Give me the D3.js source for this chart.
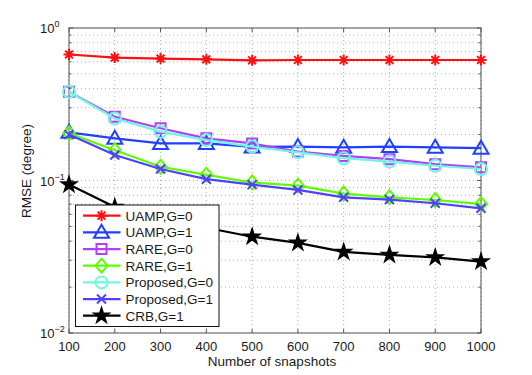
<!DOCTYPE html>
<html>
<head>
<meta charset="utf-8">
<script src="https://cdn.jsdelivr.net/npm/d3@7"></script>
<style>
  body { margin: 0; background: #fff; }
  text { font-family: "Liberation Sans", Arial, sans-serif; fill: #1a1a1a; }
</style>
</head>
<body>
<svg width="532" height="375"></svg>
<script>
// data
var snapshots = [100, 200, 300, 400, 500, 600, 700, 800, 900, 1000];
var uampG0 = [0.67, 0.64, 0.63, 0.623, 0.614, 0.617, 0.617, 0.617, 0.617, 0.617];
var uampG1 = [0.207, 0.189, 0.175, 0.175, 0.166, 0.167, 0.165, 0.167, 0.165, 0.163];
var rareG0 = [0.382, 0.262, 0.22, 0.189, 0.175, 0.155, 0.145, 0.138, 0.128, 0.122];
var rareG1 = [0.204, 0.158, 0.123, 0.109, 0.097, 0.0925, 0.082, 0.0776, 0.0745, 0.070];
var propG0 = [0.382, 0.255, 0.209, 0.184, 0.167, 0.153, 0.14, 0.133, 0.125, 0.119];
var propG1 = [0.2, 0.147, 0.119, 0.102, 0.094, 0.0867, 0.0776, 0.075, 0.0709, 0.0657];
var crbG1 = [0.094, 0.067, 0.056, 0.049, 0.0428, 0.039, 0.034, 0.0325, 0.0313, 0.0294];

var seriesNames = ["UAMP,G=0", "UAMP,G=1", "RARE,G=0", "RARE,G=1", "Proposed,G=0", "Proposed,G=1", "CRB,G=1"];
var seriesValues = [uampG0, uampG1, rareG0, rareG1, propG0, propG1, crbG1];
var seriesColors = ["#ff1010", "#2040ff", "#b040ff", "#5cff00", "#70f5e0", "#5040ff", "#000000"];
var seriesMarkers = ["asterisk", "triangle", "square", "diamond", "circle", "x", "star"];
var yTicks = [1, 0.1, 0.01];
var yTickExp = ["0", "\u22121", "\u22122"];

var svg = d3.select("svg");
var pLeft = 69, pRight = 481, pTop = 28, pBottom = 333;

var x = d3.scaleLinear().domain([100, 1000]).range([pLeft, pRight]);
var y = d3.scaleLog().domain([0.01, 1]).range([pBottom, pTop]);

// minor log ticks
var minor = [];
[0.01, 0.1].forEach(function (d) {
  for (var k = 2; k <= 9; k++) minor.push(d * k);
});

var g = svg.append("g");

// grid
g.selectAll(".gx").data(snapshots).enter().append("line")
  .attr("x1", function (d) { return x(d); }).attr("x2", function (d) { return x(d); })
  .attr("y1", pTop).attr("y2", pBottom)
  .attr("stroke", "#999").attr("stroke-width", 0.8).attr("stroke-dasharray", "1,3");
g.selectAll(".gy").data(minor.concat(yTicks)).enter().append("line")
  .attr("x1", pLeft).attr("x2", pRight)
  .attr("y1", function (d) { return y(d); }).attr("y2", function (d) { return y(d); })
  .attr("stroke", "#999").attr("stroke-width", 0.8).attr("stroke-dasharray", "1,3");

// box
g.append("rect").attr("x", pLeft).attr("y", pTop).attr("width", pRight - pLeft).attr("height", pBottom - pTop)
  .attr("fill", "none").attr("stroke", "#555").attr("stroke-width", 1);

// ticks
snapshots.forEach(function (d) {
  g.append("line").attr("x1", x(d)).attr("x2", x(d)).attr("y1", pBottom).attr("y2", pBottom - 4).attr("stroke", "#555");
  g.append("line").attr("x1", x(d)).attr("x2", x(d)).attr("y1", pTop).attr("y2", pTop + 4).attr("stroke", "#555");
});
yTicks.forEach(function (d) {
  g.append("line").attr("x1", pLeft).attr("x2", pLeft + 4).attr("y1", y(d)).attr("y2", y(d)).attr("stroke", "#555");
  g.append("line").attr("x1", pRight).attr("x2", pRight - 4).attr("y1", y(d)).attr("y2", y(d)).attr("stroke", "#555");
});
minor.forEach(function (d) {
  g.append("line").attr("x1", pLeft).attr("x2", pLeft + 2.5).attr("y1", y(d)).attr("y2", y(d)).attr("stroke", "#555");
  g.append("line").attr("x1", pRight).attr("x2", pRight - 2.5).attr("y1", y(d)).attr("y2", y(d)).attr("stroke", "#555");
});

// tick labels
g.selectAll(".xl").data(snapshots).enter().append("text")
  .attr("x", function (d) { return x(d); }).attr("y", 350.5)
  .attr("text-anchor", "middle").style("font-size", "13px")
  .text(function (d) { return d; });
yTicks.forEach(function (d, i) {
  var t = g.append("text").attr("x", 40).attr("y", y(d) + 5).style("font-size", "13px");
  t.append("tspan").text("10");
  t.append("tspan").attr("dy", -6).style("font-size", "9px").text(yTickExp[i]);
});

// axis titles
g.append("text").attr("x", 272).attr("y", 366).attr("text-anchor", "middle")
  .style("font-size", "13.5px").text("Number of snapshots");
g.append("text").attr("transform", "translate(31,171) rotate(-90)").attr("text-anchor", "middle")
  .style("font-size", "13.5px").text("RMSE (degree)");

// markers
function markerPath(type) {
  switch (type) {
    case "asterisk":
      var r = 5.5, s = r * Math.SQRT1_2;
      return "M" + (-r) + ",0L" + r + ",0M0," + (-r) + "L0," + r +
        "M" + (-s) + "," + (-s) + "L" + s + "," + s + "M" + (-s) + "," + s + "L" + s + "," + (-s);
    case "triangle": return "M0,-7.5L7.5,5.5L-7.5,5.5Z";
    case "square": return "M-5,-5L5,-5L5,5L-5,5Z";
    case "diamond": return "M0,-7L6,0L0,7L-6,0Z";
    case "circle": return "M6,0A6,6 0 1,1 -6,0A6,6 0 1,1 6,0Z";
    case "x": return "M-4.5,-4.5L4.5,4.5M-4.5,4.5L4.5,-4.5";
    case "star": return d3.symbol().type(d3.symbolStar).size(60)();
  }
}

var line = d3.line()
  .x(function (d, i) { return x(snapshots[i]); })
  .y(function (d) { return y(d); });

var plot = svg.append("g");
seriesValues.forEach(function (vals, si) {
  var col = seriesColors[si];
  plot.append("path").attr("d", line(vals)).attr("fill", "none")
    .attr("stroke", col).attr("stroke-width", 2.2).attr("stroke-linejoin", "round");
  plot.selectAll(null).data(vals).enter().append("path")
    .attr("transform", function (d, i) { return "translate(" + x(snapshots[i]) + "," + y(d) + ")"; })
    .attr("d", markerPath(seriesMarkers[si]))
    .attr("fill", seriesMarkers[si] === "star" ? col : "none")
    .attr("stroke", col).attr("stroke-width", 2).attr("stroke-linejoin", "miter");
});

// legend
var lg = svg.append("g");
lg.append("rect").attr("x", 75.5).attr("y", 205).attr("width", 143.5).attr("height", 121.5)
  .attr("fill", "#fff").attr("stroke", "#111").attr("stroke-width", 1);
seriesNames.forEach(function (name, i) {
  var ly = 215.7 + i * 16.67, col = seriesColors[i];
  lg.append("line").attr("x1", 83).attr("x2", 120.5).attr("y1", ly).attr("y2", ly)
    .attr("stroke", col).attr("stroke-width", 2.2);
  lg.append("path").attr("transform", "translate(101.5," + ly + ")")
    .attr("d", markerPath(seriesMarkers[i]))
    .attr("fill", seriesMarkers[i] === "star" ? col : "none")
    .attr("stroke", col).attr("stroke-width", 2).attr("stroke-linejoin", "miter");
  lg.append("text").attr("x", 125.5).attr("y", ly + 5).style("font-size", "13.5px").text(name);
});
</script>
</body>
</html>
